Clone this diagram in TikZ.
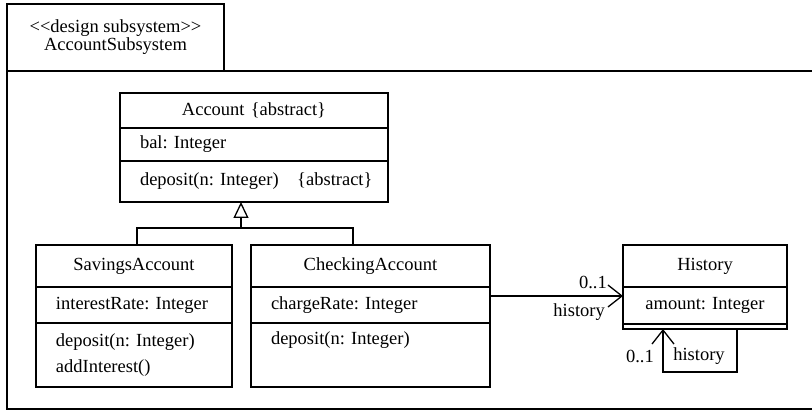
\documentclass[tikz,border=0pt]{standalone}
\usepackage{fontspec}
\setmainfont{Liberation Serif}
\usetikzlibrary{arrows.meta}

\tikzset{
    cls/.style={draw, line width=1.3pt, outer sep=0pt, inner xsep=20pt, inner ysep=0pt, anchor=north west, text width=#1, align=left},
    clsname/.style={cls=#1, align=center},
    lbl/.style={inner sep=0pt},
    gen/.style={line width=1.3pt, -{Triangle[open,length=16pt,width=15pt]}},
    assoc/.style={line width=1.3pt, -{Straight Barb[length=14pt,width=22pt]}}
}

\begin{document}
\frenchspacing
\begin{tikzpicture}[x=1pt, y=-1pt, font=\fontsize{18.5}{26}\selectfont]
    \useasboundingbox (0,0) rectangle (812,411);
    % subsystem frame
    \node[draw, line width=1.3pt, outer sep=0pt, minimum width=217pt, minimum height=67pt, anchor=north west, align=center,
          font=\fontsize{18.5}{18}\selectfont] (tab) at (7,4)
          {<\kern0pt<design subsystem>\kern0pt>\\AccountSubsystem};
    \draw[line width=1.3pt] (820,71) -- (tab.south west) |- (820,409);

    % Account
    \node[clsname=228pt, minimum height=35pt] (accN) at (120,93) {Account \{abstract\}};
    \node[cls=228pt, minimum height=33pt] (accA) at (accN.south west) {bal: Integer};
    \node[cls=228pt, minimum height=41pt] (accO) at (accA.south west) {\mbox{deposit(n: Integer)\quad\{abstract\}}};

    % SavingsAccount
    \node[clsname=156pt, minimum height=42pt] (savN) at (36,245) {SavingsAccount};
    \node[cls=156pt, minimum height=36pt] (savA) at (savN.south west) {interestRate: Integer};
    \node[cls=156pt, minimum height=64pt] (savO) at (savA.south west) {deposit(n: Integer)\\addInterest()};

    % CheckingAccount
    \node[clsname=199pt, minimum height=42pt] (chkN) at (251,245) {CheckingAccount};
    \node[cls=199pt, minimum height=36pt] (chkA) at (chkN.south west) {chargeRate: Integer};
    \node[cls=199pt, minimum height=64pt] (chkO) at (chkA.south west) {deposit(n: Integer)\\\strut};

    % History
    \node[clsname=124pt, minimum height=42pt] (histN) at (623,245) {History};
    \node[clsname=124pt, minimum height=37pt] (histA) at (histN.south west) {amount: Integer};
    \node[cls=124pt, minimum height=5pt] (histO) at (histA.south west) {};

    % generalization
    \coordinate (fork) at (241,228);
    \draw[gen] (fork) -- (fork |- accO.south);
    \draw[line width=1.3pt] ([xshift=3pt]savN.north) |- (fork) -| ([xshift=-17.5pt]chkN.north);

    % associations
    \draw[assoc] ([yshift=-9pt]chkA.north east) -- ([yshift=-9pt]histA.north west);
    \node[lbl, anchor=east] (m1) at (607,282) {0..1};
    \node[lbl, anchor=east] (r1) at (605,312) {history};

    \draw[assoc] ([xshift=32pt]histO.south) -- ++(0,43) -| ([xshift=-42pt]histO.south);
    \node[lbl, anchor=east] (m2) at (654,356) {0..1};
    \node[lbl] (r2) at (699,356) {history};
\end{tikzpicture}
\end{document}
